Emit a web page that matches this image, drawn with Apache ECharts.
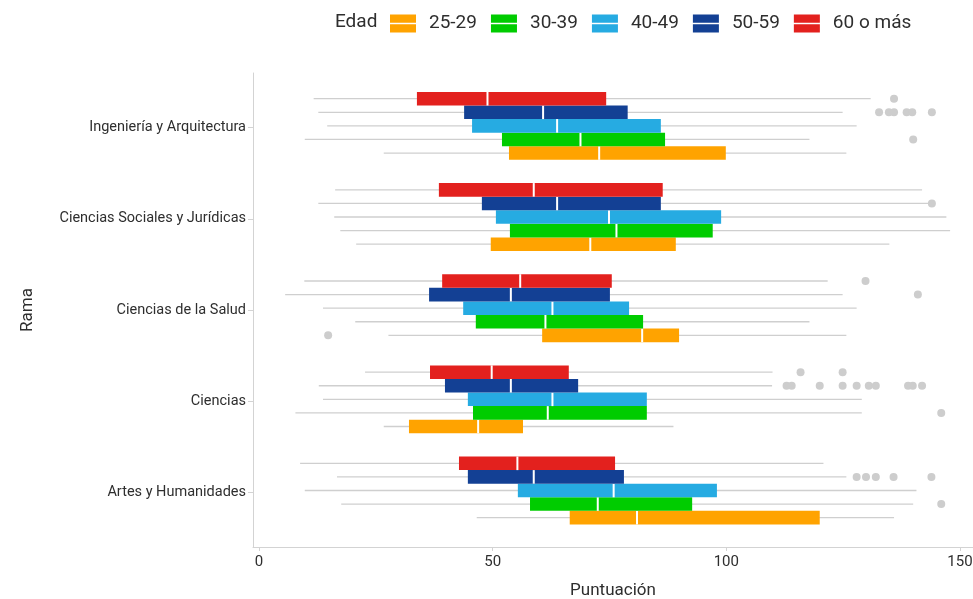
<!DOCTYPE html>
<html>
<head>
<meta charset="utf-8">
<script src="https://cdn.jsdelivr.net/npm/echarts@6/dist/echarts.min.js"></script>
<style>
html,body{margin:0;padding:0;background:#fff;}
#chart{width:973px;height:599px;}
</style>
</head>
<body>
<div id="chart"></div>
<script>
// Categories (top to bottom)
const categories = ['Ingeniería y Arquitectura', 'Ciencias Sociales y Jurídicas', 'Ciencias de la Salud', 'Ciencias', 'Artes y Humanidades'];
const ageGroups = ['25-29', '30-39', '40-49', '50-59', '60 o más'];
const xTicks = [0, 50, 100, 150];

// Box stats per category: [min, q1, median, q3, max]
const stats_25_29 = [
  [26.7, 53.5, 72.8, 99.9, 125.7],
  [20.8, 49.6, 70.9, 89.2, 134.9],
  [27.7, 60.6, 82.0, 89.9, 125.7],
  [26.7, 32.1, 46.9, 56.5, 88.7],
  [46.6, 66.5, 80.9, 120.0, 135.9]
];
const stats_30_39 = [
  [9.8, 52.0, 68.8, 86.9, 117.8],
  [17.4, 53.7, 76.5, 97.1, 147.9],
  [20.6, 46.4, 61.3, 82.2, 117.8],
  [7.8, 45.8, 61.8, 83.0, 129.0],
  [17.6, 58.0, 72.5, 92.7, 140.0]
];
const stats_40_49 = [
  [14.6, 45.6, 63.8, 86.0, 127.9],
  [16.1, 50.7, 74.9, 98.9, 147.1],
  [13.7, 43.7, 62.8, 79.2, 127.9],
  [13.7, 44.7, 62.8, 83.0, 129.0],
  [9.8, 55.4, 75.9, 98.0, 140.7]
];
const stats_50_59 = [
  [12.7, 43.9, 60.8, 78.9, 124.9],
  [12.7, 47.7, 63.8, 86.0, 143.2],
  [5.6, 36.4, 53.9, 75.1, 124.9],
  [12.8, 39.8, 53.9, 68.3, 109.8],
  [16.7, 44.7, 58.8, 78.1, 125.7]
];
const stats_60_mas = [
  [11.7, 33.8, 48.9, 74.3, 130.9],
  [16.3, 38.5, 58.8, 86.4, 141.9],
  [9.7, 39.2, 55.9, 75.5, 121.7],
  [22.7, 36.6, 49.8, 66.3, 109.9],
  [8.8, 42.8, 55.3, 76.2, 120.8]
];

// Outliers: [categoryIndex, value]
const out_25_29 = [[2, 14.8]];
const out_30_39 = [[0, 140.0], [3, 146.0], [4, 146.0]];
const out_40_49 = [];
const out_50_59 = [
  [0, 132.7], [0, 134.8], [0, 135.9], [0, 138.6], [0, 139.8], [0, 144.0],
  [1, 144.0],
  [2, 141.0],
  [3, 112.9], [3, 114.0], [3, 120.0], [3, 124.9], [3, 127.9], [3, 130.5], [3, 132.0], [3, 138.9], [3, 139.9], [3, 141.9],
  [4, 127.9], [4, 129.9], [4, 132.0], [4, 135.8], [4, 143.9]
];
const out_60_mas = [[0, 135.9], [2, 129.8], [3, 115.9], [3, 124.9]];

const colors = ['#FFA300', '#00CC00', '#26ABE2', '#134094', '#E3211E'];
const allStats = [stats_25_29, stats_30_39, stats_40_49, stats_50_59, stats_60_mas];
const allOut = [out_25_29, out_30_39, out_40_49, out_50_59, out_60_mas];

const BOX_H = 0.149;       // box thickness in category units
const GROUP_SHIFT = -0.02; // dodge group shift
const WHISKER = '#cfcfcf';
const FONT = 'Roboto';
const TXT = '#2e2e2e';

// offset of each age group within the dodge (25-29 bottom, 60 o más top)
function dodge(i) { return GROUP_SHIFT + (2 - i) * BOX_H; }

function boxRenderer(off) {
  return function (params, api) {
    const c = api.value(0) + off;
    const pMin = api.coord([api.value(1), c]);
    const pQ1 = api.coord([api.value(2), c]);
    const pMed = api.coord([api.value(3), c]);
    const pQ3 = api.coord([api.value(4), c]);
    const pMax = api.coord([api.value(5), c]);
    const h = Math.abs(api.size([0, BOX_H])[1]);
    return {
      type: 'group',
      children: [
        { type: 'line', shape: { x1: pMin[0], y1: pMin[1], x2: pMax[0], y2: pMax[1] }, style: { stroke: WHISKER, lineWidth: 1.3 } },
        { type: 'rect', shape: { x: pQ1[0], y: pQ1[1] - h / 2, width: pQ3[0] - pQ1[0], height: h }, style: { fill: api.visual('color') } },
        { type: 'line', shape: { x1: pMed[0], y1: pMed[1] - h / 2, x2: pMed[0], y2: pMed[1] + h / 2 }, style: { stroke: '#ffffff', lineWidth: 2 } }
      ]
    };
  };
}
function outRenderer(off) {
  return function (params, api) {
    const p = api.coord([api.value(1), api.value(0) + off]);
    return { type: 'circle', shape: { cx: p[0], cy: p[1], r: 4 }, style: { fill: '#cdcdcd' } };
  };
}

const series = [];
ageGroups.forEach(function (g, i) {
  series.push({
    name: g,
    type: 'custom',
    renderItem: boxRenderer(dodge(i)),
    itemStyle: { color: colors[i] },
    encode: { x: [1, 2, 3, 4, 5], y: 0 },
    data: allStats[i].map(function (s, k) { return [k].concat(s); }),
    z: 3
  });
});
ageGroups.forEach(function (g, i) {
  series.push({
    name: g,
    type: 'custom',
    renderItem: outRenderer(dodge(i)),
    itemStyle: { color: colors[i] },
    encode: { x: 1, y: 0 },
    data: allOut[i],
    z: 2
  });
});

const chart = echarts.init(document.getElementById('chart'), null, { renderer: 'canvas' });
chart.setOption({
  animation: false,
  backgroundColor: '#ffffff',
  textStyle: { fontFamily: FONT },
  title: {
    text: 'Edad', left: 335, top: 13, padding: 0,
    textStyle: { fontFamily: FONT, fontSize: 19, fontWeight: 'normal', color: TXT }
  },
  legend: {
    data: ageGroups,
    left: 390, top: 14, padding: 0,
    itemWidth: 26, itemHeight: 18, itemGap: 14,
    icon: 'path://M0,0H26V8.2H0Z M0,9.8H26V18H0Z',
    textStyle: { fontFamily: FONT, fontSize: 19, color: TXT, width: 50, padding: [0, 0, 0, 8] }
  },
  grid: { left: 253, right: 0, top: 73, bottom: 52, containLabel: false, outerBoundsMode: 'none' },
  xAxis: {
    type: 'value', min: -1.28, max: 152.8,
    name: 'Puntuación', nameLocation: 'middle', nameGap: 35,
    nameTextStyle: { fontFamily: FONT, fontSize: 17, color: TXT },
    axisLine: { show: true, onZero: false, lineStyle: { color: '#d3d3d3', width: 1 } },
    axisTick: { show: true, length: 4, customValues: xTicks, lineStyle: { color: '#d3d3d3' } },
    axisLabel: { customValues: xTicks, fontFamily: FONT, fontSize: 15, color: TXT, margin: 8 },
    splitLine: { show: false }
  },
  yAxis: {
    type: 'value', inverse: true, min: -0.6, max: 4.6,
    name: 'Rama', nameLocation: 'middle', nameGap: 217, nameRotate: 90,
    nameTextStyle: { fontFamily: FONT, fontSize: 17, color: TXT },
    axisLine: { show: true, onZero: false, lineStyle: { color: '#d3d3d3', width: 1 } },
    axisTick: { show: true, length: 5, customValues: [0, 1, 2, 3, 4], lineStyle: { color: '#d3d3d3' } },
    axisLabel: {
      customValues: [0, 1, 2, 3, 4], fontFamily: FONT, fontSize: 14.5, color: TXT, margin: 7,
      formatter: function (v) { return categories[Math.round(v)]; }
    },
    splitLine: { show: false }
  },
  series: series
});
</script>
</body>
</html>
